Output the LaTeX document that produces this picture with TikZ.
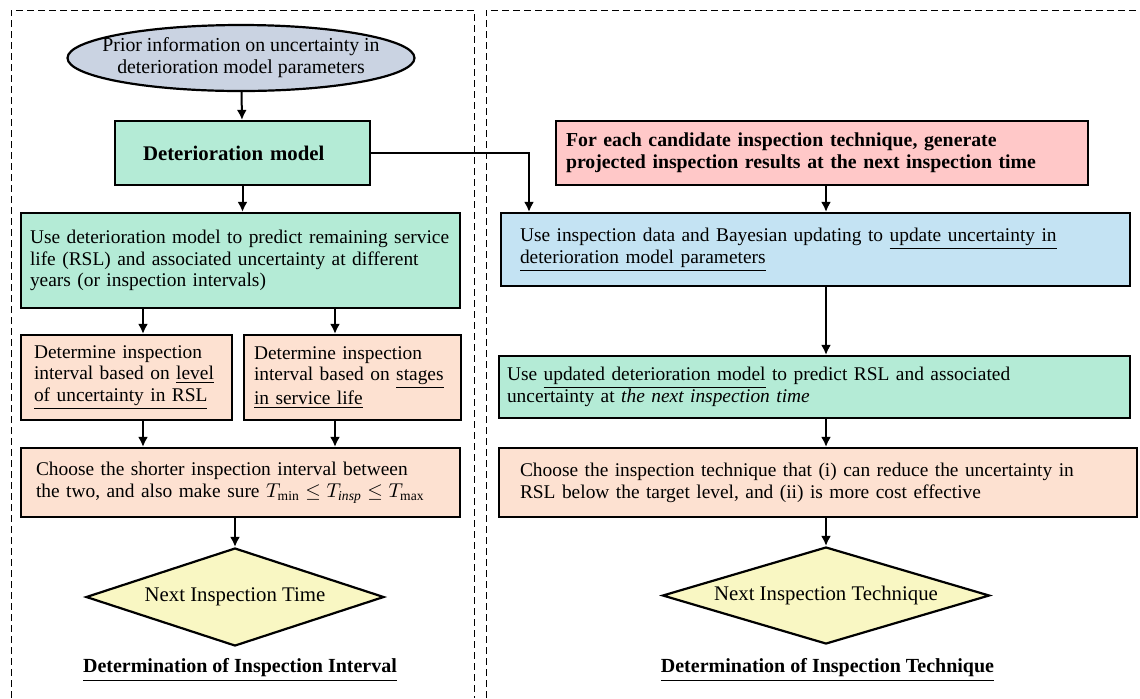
\documentclass[tikz,border=0pt]{standalone}
\usepackage{fontspec}
\setmainfont{Liberation Serif}
\usetikzlibrary{shapes.geometric,arrows.meta}
\definecolor{priorblue}{HTML}{CAD3E2}
\definecolor{mint}{HTML}{B4EBD6}
\definecolor{peach}{HTML}{FDE1D1}
\definecolor{rose}{HTML}{FFC8C8}
\definecolor{sky}{HTML}{C4E3F3}
\definecolor{lemon}{HTML}{F9F7C3}
\tikzset{
  panel/.style={line width=0.5pt,dash pattern=on 3.5pt off 2pt},
  flowbox/.style={draw,line width=1.1pt,align=left,inner ysep=0pt,font=\fontsize{9.7}{10.9}\selectfont},
  decision/.style={diamond,draw,line width=1.1pt,fill=lemon,aspect=3,inner sep=0pt,font=\fontsize{10.4}{12}\selectfont},
  heading/.style={font=\bfseries\fontsize{10}{12}\selectfont},
  link/.style={line width=1pt,-{Latex[length=5pt,width=5pt]}}
}
\begin{document}
\begin{tikzpicture}[x=0.5pt,y=-0.5pt]
\useasboundingbox (0,0) rectangle (1140,698);
\draw[panel] (11,698) -- (11,10) -- (474,10) -- (474,698);
\draw[panel] (486,698) -- (486,10) -- (1140,10);
\node[ellipse,draw,line width=1.1pt,fill=priorblue,align=center,inner xsep=-10pt,inner ysep=0pt,minimum width=173.5pt,minimum height=33pt,font=\fontsize{9.9}{10.9}\selectfont] (prior) at (241,58) {Prior information on uncertainty in\\deterioration model parameters};
\node[flowbox,fill=mint,font=\bfseries\fontsize{10.4}{12}\selectfont,inner xsep=14pt,text width=99.5pt,minimum height=32pt] (model) at (242.5,153) {Deterioration model};
\node[flowbox,fill=mint,inner xsep=4.5pt,text width=210.5pt,minimum height=47.5pt] (predict) at (240.5,260.5) {Use deterioration model to predict remaining service\\life (RSL) and associated uncertainty at different\\years (or inspection intervals)};
\node[flowbox,fill=peach,inner xsep=6.5pt,text width=92.5pt,minimum height=42.5pt] (level) at (126.5,377.5) {Determine inspection\\interval based on \underline{level}\\\underline{of uncertainty in RSL}};
\node[flowbox,fill=peach,inner xsep=5pt,text width=98.5pt,minimum height=42.5pt] (stage) at (352.5,377.5) {Determine inspection\\interval based on \underline{stages}\\\underline{in service life}};
\node[flowbox,fill=peach,inner xsep=7.5pt,text width=204.5pt,minimum height=34.5pt] (shorter) at (240.5,482.5) {Choose the shorter inspection interval between\\the two, and also make sure $T_{\min}\le T_{\mathit{insp}}\le T_{\max}$};
\node[decision,minimum width=149pt,minimum height=49pt] (nexttime) at (235,597) {Next Inspection Time};
\node[heading] (titleL) at (240,670) {\underline{Determination of Inspection Interval}};
\node[flowbox,fill=rose,font=\bfseries\fontsize{9.9}{10.9}\selectfont,inner xsep=5pt,text width=256pt,minimum height=32pt] (generate) at (822,153) {For each candidate inspection technique, generate\\projected inspection results at the next inspection time};
\node[flowbox,fill=sky,inner xsep=9.5pt,text width=295.5pt,minimum height=36.5pt] (bayes) at (815.5,249.5) {Use inspection data and Bayesian updating to \underline{update uncertainty in}\\\underline{deterioration model parameters}};
\node[flowbox,fill=mint,inner xsep=4pt,text width=307.5pt,minimum height=31pt] (updated) at (814.5,387) {Use \underline{updated deterioration model} to predict RSL and associated\\uncertainty at \textit{the next inspection time}};
\node[flowbox,fill=peach,inner xsep=10.5pt,text width=298pt,minimum height=34.5pt] (choose) at (818,482.5) {Choose the inspection technique that (i) can reduce the uncertainty in\\RSL below the target level, and (ii) is more cost effective};
\node[decision,minimum width=163.5pt,minimum height=48.5pt] (nexttech) at (826,595.5) {Next Inspection Technique};
\node[heading] (titleR) at (827.5,670) {\underline{Determination of Inspection Technique}};
\coordinate (colL) at (143,0);
\coordinate (colR) at (335,0);
\coordinate (bend) at (529,153);
\draw[link] (prior) to (model);
\draw[link] (model.south) to (model.south |- predict.north);
\draw[link] (predict.south -| colL) to (level.north -| colL);
\draw[link] (predict.south -| colR) to (stage.north -| colR);
\draw[link] (level.south -| colL) to (shorter.north -| colL);
\draw[link] (stage.south -| colR) to (shorter.north -| colR);
\draw[link] (nexttime.north |- shorter.south) to (nexttime.north);
\draw[link] (model.east) -- (bend) -- (bend |- bayes.north);
\draw[link] (generate.south -| nexttech) to (bayes.north -| nexttech);
\draw[link] (bayes.south -| nexttech) to (updated.north -| nexttech);
\draw[link] (updated.south -| nexttech) to (choose.north -| nexttech);
\draw[link] (choose.south -| nexttech) to (nexttech.north);
\end{tikzpicture}
\end{document}
